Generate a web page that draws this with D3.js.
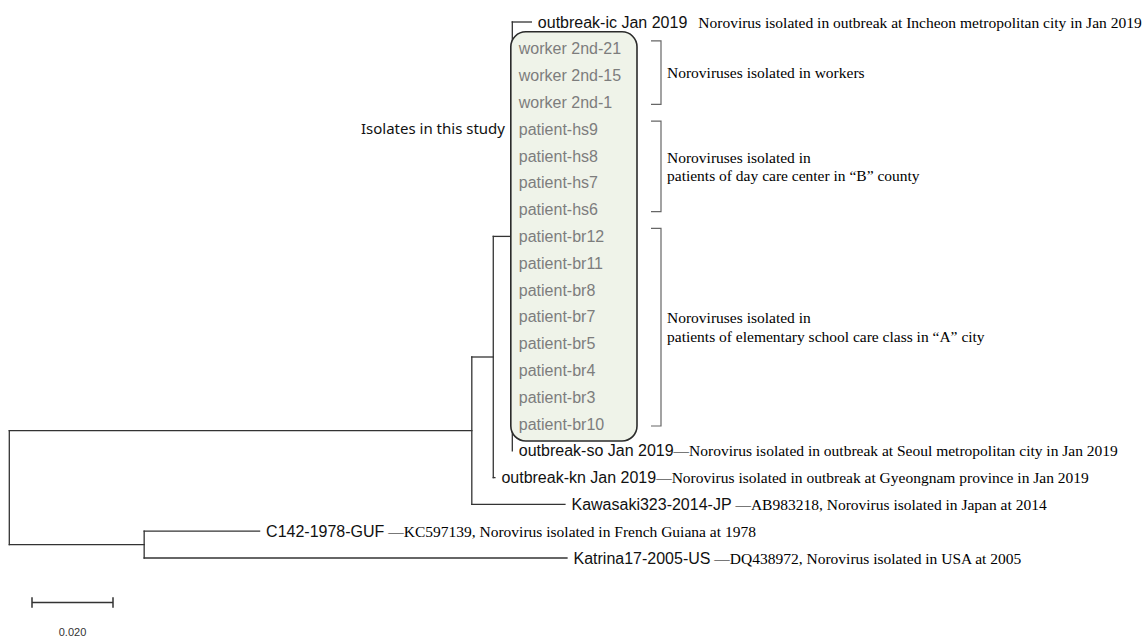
<!DOCTYPE html>
<html>
<head>
<meta charset="utf-8">
<script src="https://d3js.org/d3.v7.min.js"></script>
<style>
  body { margin: 0; background: #fff; }
  .branch { stroke: #333; stroke-width: 1.3; fill: none; stroke-linecap: square; }
  .name { font-family: "Liberation Sans", Arial, sans-serif; font-size: 16px; fill: #111; }
  .study { fill: #7d7d7d; }
  .desc { font-family: "Liberation Serif", "Times New Roman", serif; font-size: 15.5px; fill: #000; }
  .bracket { stroke: #666; stroke-width: 1.2; fill: none; }
</style>
</head>
<body>
<div id="chart"></div>
<script>
// tree: [node, parent, branch length]
var nodes = [
  ["root", "", 0],
  ["A", "root", 0.1142],
  ["B", "root", 0.0333],
  ["C", "A", 0.0053],
  ["D", "C", 0.0047],
  ["outbreak-ic Jan 2019", "D", 0.0047],
  ["worker 2nd-21", "D", 0],
  ["worker 2nd-15", "D", 0],
  ["worker 2nd-1", "D", 0],
  ["patient-hs9", "D", 0],
  ["patient-hs8", "D", 0],
  ["patient-hs7", "D", 0],
  ["patient-hs6", "D", 0],
  ["patient-br12", "D", 0],
  ["patient-br11", "D", 0],
  ["patient-br8", "D", 0],
  ["patient-br7", "D", 0],
  ["patient-br5", "D", 0],
  ["patient-br4", "D", 0],
  ["patient-br3", "D", 0],
  ["patient-br10", "D", 0],
  ["outbreak-so Jan 2019", "D", 0],
  ["outbreak-kn Jan 2019", "C", 0.0004],
  ["Kawasaki323-2014-JP", "A", 0.0230],
  ["C142-1978-GUF", "B", 0.0285],
  ["Katrina17-2005-US", "B", 0.1044]
];

var studyIsolates = ["worker 2nd-21", "worker 2nd-15", "worker 2nd-1",
  "patient-hs9", "patient-hs8", "patient-hs7", "patient-hs6",
  "patient-br12", "patient-br11", "patient-br8", "patient-br7",
  "patient-br5", "patient-br4", "patient-br3", "patient-br10"];

// [leaf, separator, description]
var descriptions = [
  ["outbreak-ic Jan 2019", "", "Norovirus isolated in outbreak at Incheon metropolitan city in Jan 2019"],
  ["outbreak-so Jan 2019", "\u2014", "Norovirus isolated in outbreak at Seoul metropolitan city in Jan 2019"],
  ["outbreak-kn Jan 2019", "\u2014", "Norovirus isolated in outbreak at Gyeongnam province in Jan 2019"],
  ["Kawasaki323-2014-JP", " \u2014", "AB983218, Norovirus isolated in Japan at 2014"],
  ["C142-1978-GUF", " \u2014", "KC597139, Norovirus isolated in French Guiana at 1978"],
  ["Katrina17-2005-US", " \u2014", "DQ438972, Norovirus isolated in USA at 2005"]
];

var groups = [
  {first: "worker 2nd-21", last: "worker 2nd-1", lines: ["Noroviruses isolated in workers"]},
  {first: "patient-hs9", last: "patient-hs6", lines: ["Noroviruses isolated in", "patients of day care center in \u201cB\u201d county"]},
  {first: "patient-br12", last: "patient-br10", lines: ["Noroviruses isolated in", "patients of elementary school care class in \u201cA\u201d city"]}
];

var studyLabel = "Isolates in this study";
var scaleValue = 0.020;

var W = 1147, H = 637;
var svg = d3.select("#chart").append("svg").attr("width", W).attr("height", H);

var root = d3.stratify()
  .id(function (d) { return d[0]; })
  .parentId(function (d) { return d[1] || null; })(nodes);

var leafNames = root.leaves().map(function (d) { return d.id; });

var x = d3.scaleLinear().domain([0, 0.02]).range([9.3, 90.3]);
var y = d3.scalePoint().domain(leafNames).range([22, 558]);

root.eachBefore(function (d) {
  d.dist = d.parent ? d.parent.dist + d.data[2] : 0;
});
root.eachAfter(function (d) {
  if (!d.children) d.yy = y(d.id);
  else d.yy = (d.children[0].yy + d.children[d.children.length - 1].yy) / 2;
});

var g = svg.append("g");

// branches: horizontal for each edge, vertical for each internal node
root.descendants().forEach(function (d) {
  if (d.parent && d.data[2] > 0) {
    g.append("line").attr("class", "branch")
      .attr("x1", x(d.parent.dist)).attr("x2", x(d.dist))
      .attr("y1", d.yy).attr("y2", d.yy);
  }
  if (d.children) {
    g.append("line").attr("class", "branch")
      .attr("x1", x(d.dist)).attr("x2", x(d.dist))
      .attr("y1", d.children[0].yy)
      .attr("y2", d.children[d.children.length - 1].yy);
  }
});

// box around isolates of this study
var dNode = root.descendants().filter(function (d) { return d.id === "D"; })[0];
var y0 = y(studyIsolates[0]) - 17, y1 = y(studyIsolates[studyIsolates.length - 1]) + 17;
svg.append("rect")
  .attr("x", x(dNode.dist) - 1.5).attr("y", y0)
  .attr("width", 637 - x(dNode.dist) + 1.5).attr("height", y1 - y0)
  .attr("rx", 15).attr("ry", 15)
  .attr("fill", "#eff3e9").attr("stroke", "#2b2b2b").attr("stroke-width", 1.6);

svg.append("text")
  .attr("x", 505).attr("y", y(studyIsolates[3]))
  .attr("dy", "0.35em").attr("text-anchor", "end")
  .style("font-family", "'Noto Sans', 'Open Sans', sans-serif")
  .style("font-size", "15px").style("fill", "#111")
  .text(studyLabel);

// leaf labels
root.leaves().forEach(function (d) {
  var t = svg.append("text")
    .attr("x", x(d.dist) + 6.5).attr("y", d.yy).attr("dy", "0.35em");
  var isStudy = studyIsolates.indexOf(d.id) >= 0;
  t.append("tspan").attr("class", isStudy ? "name study" : "name").text(d.id);
  var desc = descriptions.filter(function (e) { return e[0] === d.id; })[0];
  if (desc) {
    t.append("tspan").attr("class", "desc")
      .attr("dx", desc[1] === "" ? 11 : 0)
      .text(desc[1] + desc[2]);
  }
});

// group brackets
groups.forEach(function (gr) {
  var top = y(gr.first) - 8, bot = y(gr.last) + 2;
  svg.append("path").attr("class", "bracket")
    .attr("d", "M651," + top + "H661V" + bot + "H651");
  var mid = (top + bot) / 2;
  var n = gr.lines.length;
  gr.lines.forEach(function (line, i) {
    svg.append("text").attr("class", "desc")
      .attr("x", 667).attr("y", mid + (i - (n - 1) / 2) * 18.5)
      .attr("dy", "0.35em")
      .text(line);
  });
});

// scale bar
var sb = d3.scaleLinear().domain([0, scaleValue]).range([32, 32 + x(scaleValue) - x(0)]);
var sy = 602.5;
svg.append("path").attr("class", "branch").style("stroke-width", 1.5)
  .attr("d", "M" + sb(0) + "," + sy + "H" + sb(scaleValue) +
    "M" + sb(0) + "," + (sy - 4.5) + "V" + (sy + 4.5) +
    "M" + sb(scaleValue) + "," + (sy - 4.5) + "V" + (sy + 4.5));
svg.append("text")
  .attr("x", (sb(0) + sb(scaleValue)) / 2).attr("y", 632).attr("dy", "0.35em")
  .attr("text-anchor", "middle")
  .style("font-family", "'Liberation Sans', Arial, sans-serif")
  .style("font-size", "11px").style("fill", "#333")
  .text(d3.format(".3f")(scaleValue));
</script>
</body>
</html>
